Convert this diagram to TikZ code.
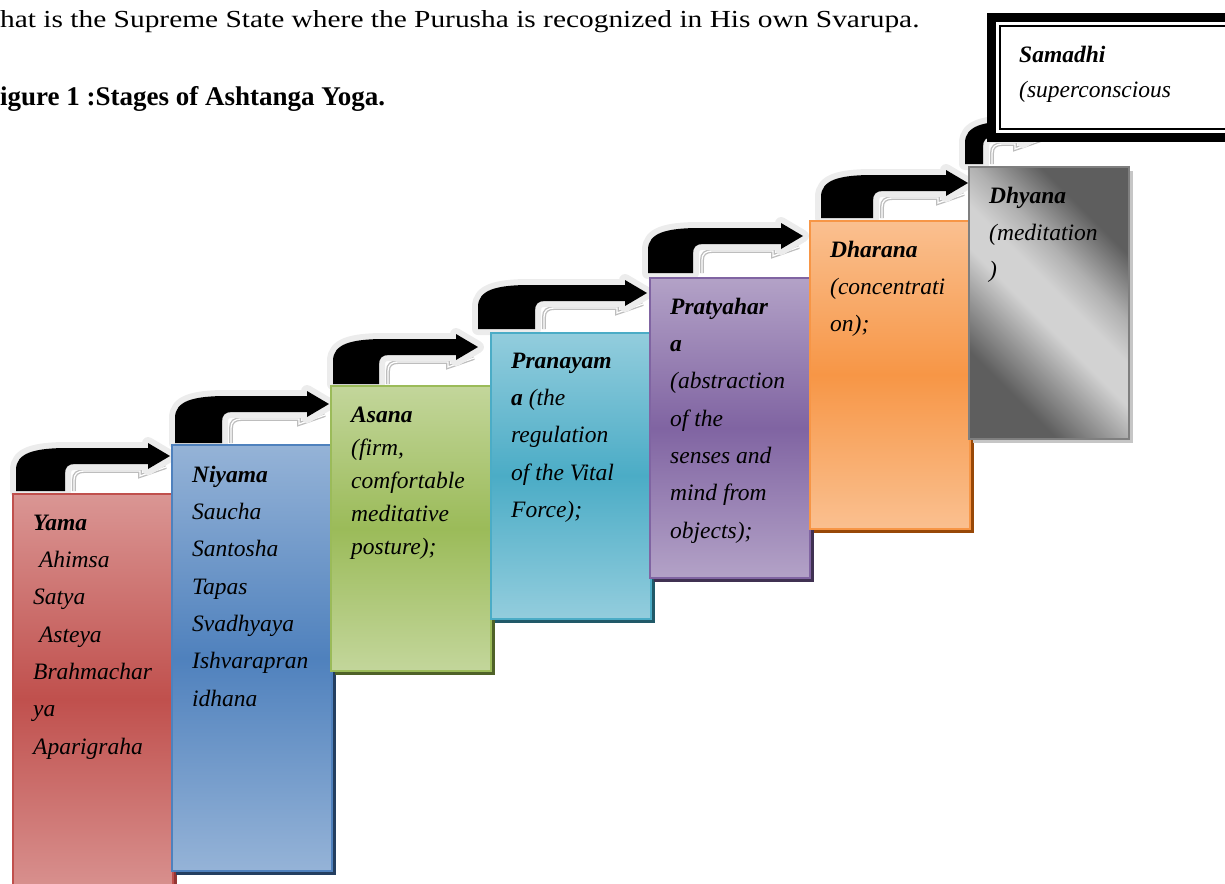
\documentclass[tikz,border=0pt]{standalone}
\usepackage{fontspec}
\setmainfont{Liberation Serif}
\newfontfamily\introfont{Liberation Serif}[FakeStretch=1.2]
\usetikzlibrary{shadows,positioning}

\definecolor{yamared}{HTML}{C0504D}
\definecolor{yamalight}{HTML}{DA9694}
\definecolor{yamadark}{HTML}{943634}
\definecolor{niyamablue}{HTML}{4F81BD}
\definecolor{niyamalight}{HTML}{95B3D7}
\definecolor{niyamadark}{HTML}{243F60}
\definecolor{asanagreen}{HTML}{9BBB59}
\definecolor{asanalight}{HTML}{C3D69B}
\definecolor{asanadark}{HTML}{4F6228}
\definecolor{pranaqua}{HTML}{4BACC6}
\definecolor{pranalight}{HTML}{93CDDD}
\definecolor{pranadark}{HTML}{215968}
\definecolor{pratpurple}{HTML}{8064A2}
\definecolor{pratlight}{HTML}{B3A2C7}
\definecolor{pratdark}{HTML}{403152}
\definecolor{dharorange}{HTML}{F79646}
\definecolor{dharlight}{HTML}{FAC090}
\definecolor{dhardark}{HTML}{984807}
\definecolor{dhyanadark}{HTML}{5E5E5E}
\definecolor{dhyanalow}{HTML}{9A9A9A}
\definecolor{dhyanamid}{HTML}{B0B0B0}
\definecolor{dhyanalight}{HTML}{D2D2D2}
\definecolor{dhyanaline}{HTML}{7F7F7F}
\definecolor{glow}{HTML}{ECECEC}
\definecolor{ghost}{HTML}{BDBDBD}

\pgfdeclareverticalshading{dhyanashade}{100bp}{color(0bp)=(dhyanadark); color(29bp)=(dhyanadark);
  color(38bp)=(dhyanalow); color(46bp)=(dhyanalight); color(53bp)=(dhyanalight);
  color(60bp)=(dhyanamid); color(71bp)=(dhyanadark); color(100bp)=(dhyanadark)}

\tikzset{
  stage/.style n args={3}{draw=#1, line width=1.6pt, top color=#2, bottom color=#2,
    middle color=#1, general shadow={fill=#3, shadow xshift=4pt, shadow yshift=-4pt},
    anchor=north west, inner sep=0pt, minimum width=160pt},
  stagetext/.style={font=\fontsize{23.5}{37.3}\selectfont\itshape, align=left,
    anchor=north west, inner sep=0pt},
  bentshape/.style={fill=black, preaction={draw=glow, line width=12pt, line join=round}},
  ghostline/.style={draw=ghost, line width=1.3pt, double=white, double distance=1.3pt},
}
\newcommand\firstline{\rule{0pt}{25pt}}

% #1 stub left, #2 stub base, #3 stub width, #4 tip x, #5 tip y
\newcommand\bentarrow[5]{%
  \pgfmathsetmacro\bandtop{#5-8}
  \pgfmathsetmacro\bandbot{#5+8}
  \draw[ghostline] (#1+#3+9,#2) -- (#1+#3+9,\bandbot+16)
    .. controls (#1+#3+9,\bandbot+10) and (#1+#3+12,\bandbot+7) .. (#1+#3+20,\bandbot+7)
    -- (#4-30,\bandbot+7) -- (#4-30,\bandbot+12) -- (#4-4,\bandbot+3);
  \path[bentshape] (#1,#2) -- (#1,\bandtop+22)
    .. controls (#1,\bandtop+5) and (#1+18,\bandtop) .. (#1+52,\bandtop)
    -- (#4-22,\bandtop) -- (#4-22,#5-13) -- (#4,#5) -- (#4-22,#5+13) -- (#4-22,\bandbot)
    -- (#1+#3+10,\bandbot) .. controls (#1+#3+3,\bandbot) and (#1+#3,\bandbot+3) .. (#1+#3,\bandbot+10)
    -- (#1+#3,#2) -- cycle;
}

\begin{document}
\begin{tikzpicture}[x=1pt,y=-1pt]
  \useasboundingbox (0,0) rectangle (1225,883);

  \node[anchor=base west, inner sep=0pt, font=\introfont\fontsize{24.5}{28}\selectfont] (intro) at (0,28)
    {hat is the Supreme State where the Purusha is recognized in His own Svarupa.};
  \node[anchor=base west, inner sep=0pt, font=\fontsize{27}{30}\selectfont\bfseries] (caption) at (0,105)
    {igure 1 :Stages of Ashtanga Yoga.};

  % arrows between the stages
  \foreach \sx/\sy/\sw/\tx/\ty in {16/491/49/170/456, 175/443/47/329/404, 333/384/46/478/347,
      478/329/57/647/293, 648/273/45/803/236, 821/218/52/968/183, 965/164/18/1045/129}
    {\bentarrow{\sx}{\sy}{\sw}{\tx}{\ty}}

  % the stages
  \node[stage={yamared}{yamalight}{yamadark}, minimum height=410pt] (yama) at (12,493) {};
  \node[stage={niyamablue}{niyamalight}{niyamadark}, minimum height=426pt] (niyama) at (171,444) {};
  \node[stage={asanagreen}{asanalight}{asanadark}, minimum height=285pt] (asana) at (330,385) {};
  \node[stage={pranaqua}{pranalight}{pranadark}, minimum height=286pt] (pranayama) at (490,332) {};
  \node[stage={pratpurple}{pratlight}{pratdark}, minimum height=300pt] (pratyahara) at (649,277) {};
  \node[stage={dharorange}{dharlight}{dhardark}, minimum height=308pt] (dharana) at (809,220) {};
  \node[stage={dhyanaline}{dhyanalight}{gray!45}, shading=dhyanashade, shading angle=-45,
        minimum height=272pt] (dhyana) at (968,166) {};

  \node[stagetext] (yamatext) at ([shift={(21pt,-12pt)}]yama.north west)
    {\firstline\textbf{Yama}\\\ Ahimsa\\Satya\\\ Asteya\\Brahmachar\\ya\\Aparigraha};
  \node[stagetext] (niyamatext) at ([shift={(21pt,-13pt)}]niyama.north west)
    {\firstline\textbf{Niyama}\\Saucha\\Santosha\\Tapas\\Svadhyaya\\Ishvarapran\\idhana};
  \node[stagetext, font=\fontsize{23.5}{33}\selectfont\itshape] (asanatext) at ([shift={(21pt,-12pt)}]asana.north west)
    {\firstline\textbf{Asana}\\(firm,\\comfortable\\meditative\\posture);};
  \node[stagetext] (pranayamatext) at ([shift={(21pt,-11pt)}]pranayama.north west)
    {\firstline\textbf{Pranayam}\\\textbf{a} (the\\regulation\\of the Vital\\Force);};
  \node[stagetext] (pratyaharatext) at ([shift={(21pt,-12pt)}]pratyahara.north west)
    {\firstline\textbf{Pratyahar}\\\textbf{a}\\(abstraction\\of the\\senses and\\mind from\\objects);};
  \node[stagetext] (dharanatext) at ([shift={(21pt,-12pt)}]dharana.north west)
    {\firstline\textbf{Dharana}\\(concentrati\\on);};
  \node[stagetext] (dhyanatext) at ([shift={(21pt,-12pt)}]dhyana.north west)
    {\firstline\textbf{Dhyana}\\(meditation\\)};

  % top stage, cut by the page edge
  \node[draw=black, line width=9pt, fill=white, anchor=north west, inner sep=0pt,
        minimum width=270pt, minimum height=120pt] (samadhi) at (987,13) {};
  \draw[line width=2.2pt] ([shift={(13pt,-13pt)}]samadhi.north west)
    rectangle ([shift={(-13pt,13pt)}]samadhi.south east);
  \node[stagetext, font=\fontsize{23.5}{35}\selectfont\itshape] (samadhitext) at ([shift={(32pt,-24pt)}]samadhi.north west)
    {\firstline\textbf{Samadhi}\\(superconscious};
\end{tikzpicture}
\end{document}
